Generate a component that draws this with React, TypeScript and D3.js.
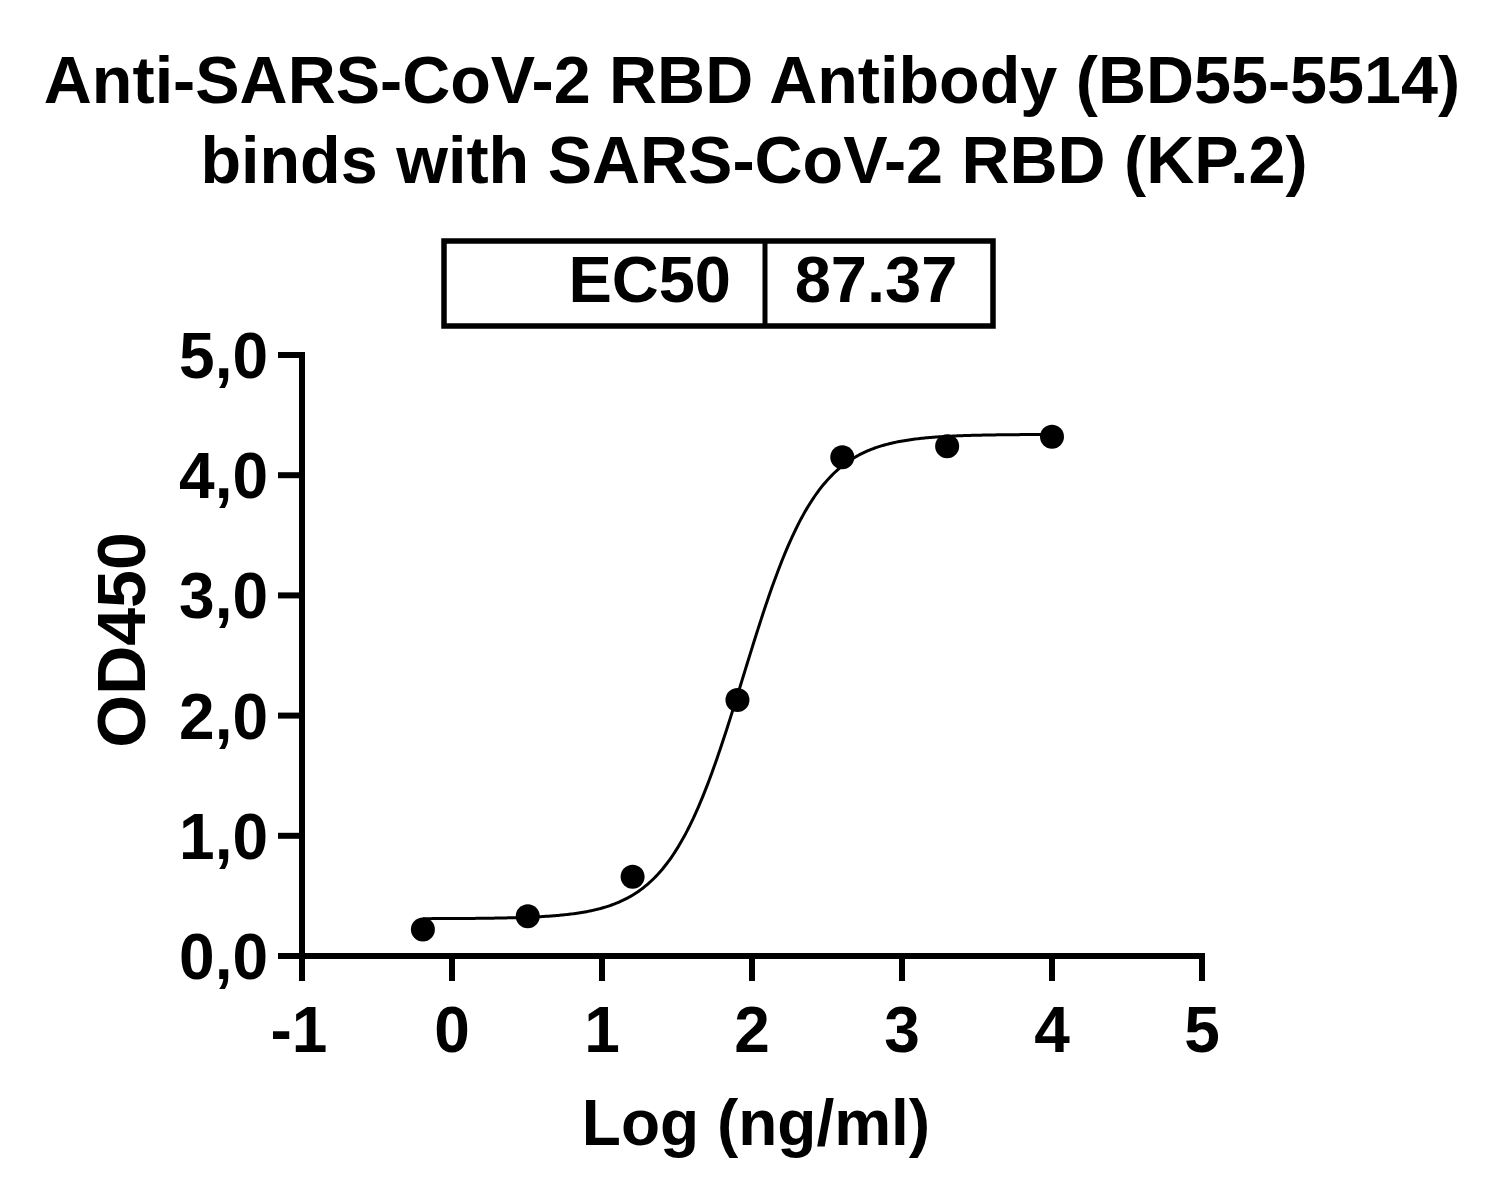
import React from "react";
import * as d3 from "d3";

const titleLines = ["Anti-SARS-CoV-2 RBD Antibody (BD55-5514)", "binds with SARS-CoV-2 RBD (KP.2)"];
const ec50Label = "EC50";
const ec50Value = "87.37";
const xLabel = "Log (ng/ml)";
const yLabel = "OD450";

const logConc = [-0.194, 0.505, 1.204, 1.903, 2.602, 3.301, 4.0];
const od450 = [0.22, 0.33, 0.66, 2.13, 4.15, 4.24, 4.32];

// 4-parameter logistic fit parameters
const fitBottom = 0.31;
const fitTop = 4.34;
const fitLogEC50 = Math.log10(87.37);
const fitHill = 1.75;

const xTicks = [-1, 0, 1, 2, 3, 4, 5];
const yTicks = [0, 1, 2, 3, 4, 5];

const W = 1505;
const H = 1204;
const FONT = "'Liberation Sans', Arial, Helvetica, sans-serif";

export default function App() {
  const x = d3.scaleLinear().domain([-1, 5]).range([302, 1202]);
  const y = d3.scaleLinear().domain([0, 5]).range([956, 355]);

  const fit = (v: number) =>
    fitBottom + (fitTop - fitBottom) / (1 + Math.pow(10, (fitLogEC50 - v) * fitHill));
  const xs = d3.range(0, 401).map((i) => logConc[0] + (i / 400) * (logConc[logConc.length - 1] - logConc[0]));
  const line = d3
    .line<number>()
    .x((d) => x(d))
    .y((d) => y(fit(d)))
    .curve(d3.curveLinear);

  const fmtY = (v: number) => v.toFixed(1).replace(".", ",");

  return (
    <svg
      width={W}
      height={H}
      viewBox={`0 0 ${W} ${H}`}
      style={{ position: "absolute", left: 0, top: 0, background: "#fff" }}
    >
      <rect x={0} y={0} width={W} height={H} fill="#fff" />
      <g fontFamily={FONT} fontWeight="bold" fill="#000">
        <text x={752} y={103} fontSize={66.5} textAnchor="middle">{titleLines[0]}</text>
        <text x={754} y={183} fontSize={66.5} textAnchor="middle">{titleLines[1]}</text>
      </g>

      {/* EC50 box */}
      <g>
        <rect x={444} y={241} width={549} height={85} fill="none" stroke="#000" strokeWidth={5.5} />
        <line x1={765} x2={765} y1={241} y2={326} stroke="#000" strokeWidth={5} />
        <text x={731} y={302} fontFamily={FONT} fontWeight="bold" fontSize={65} textAnchor="end">{ec50Label}</text>
        <text x={876} y={302} fontFamily={FONT} fontWeight="bold" fontSize={65} textAnchor="middle">{ec50Value}</text>
      </g>

      {/* Axes */}
      <g stroke="#000" strokeWidth={6} strokeLinecap="butt">
        <line x1={x(-1)} x2={x(-1)} y1={y(5) - 3} y2={y(0)} />
        <line x1={x(-1) - 24} x2={x(5) + 3} y1={y(0)} y2={y(0)} />
        {yTicks.map((t) => (
          <line key={`yt${t}`} x1={x(-1) - 24} x2={x(-1)} y1={y(t)} y2={y(t)} />
        ))}
        {xTicks.map((t) => (
          <line key={`xt${t}`} x1={x(t)} x2={x(t)} y1={y(0)} y2={y(0) + 25} />
        ))}
      </g>
      <g fontFamily={FONT} fontWeight="bold" fontSize={64} fill="#000">
        {yTicks.map((t) => (
          <text key={`yl${t}`} x={268} y={y(t) + 23} textAnchor="end">{fmtY(t)}</text>
        ))}
        {xTicks.map((t) => (
          <text key={`xl${t}`} x={x(t) - (t < 0 ? 3 : 0)} y={1052} textAnchor="middle">{String(t)}</text>
        ))}
        <text x={756} y={1145} textAnchor="middle">{xLabel}</text>
        <text transform={`translate(145,640) rotate(-90)`} textAnchor="middle" fontSize={68}>{yLabel}</text>
      </g>

      {/* Fit curve */}
      <path d={line(xs) || ""} fill="none" stroke="#000" strokeWidth={3} />

      {/* Data points */}
      <g fill="#000">
        {logConc.map((c, i) => (
          <circle key={`p${i}`} cx={x(c)} cy={y(od450[i])} r={12} />
        ))}
      </g>
    </svg>
  );
}
